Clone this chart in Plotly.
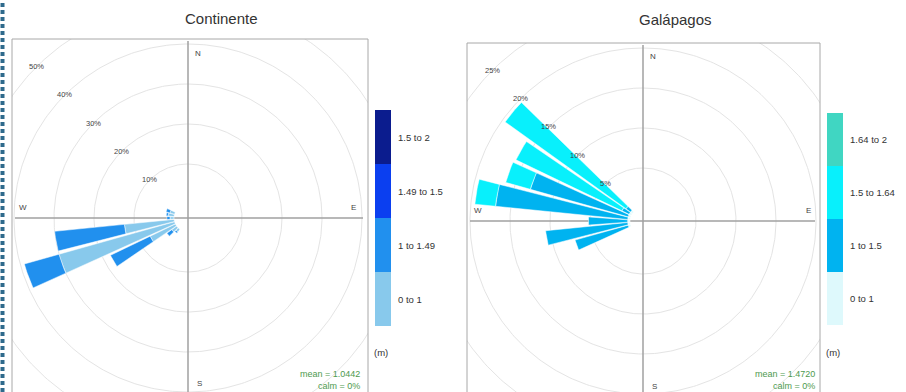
import numpy as np
import plotly.graph_objects as go

# ---------------- data ----------------
# Continente (percent of observations per direction, stacked by wave height class)
cont_dirs = [220, 230, 240, 250, 260, 270, 280, 290]
cont_labels = ["0 to 1", "1 to 1.49", "1.49 to 1.5", "1.5 to 2"]
cont_0_1 = [0.8, 1.5, 7.0, 30.0, 12.5, 1.0, 1.5, 1.2]
cont_1_149 = [0.4, 1.5, 11.0, 9.0, 17.5, 0.8, 0.5, 1.0]
cont_149_15 = [0, 0, 0, 0, 0, 0, 0, 0]
cont_15_2 = [0, 0, 0, 0, 0, 0, 0, 0]
cont_rings = [10, 20, 30, 40, 50]
cont_stats = ["mean = 1.0442", "calm = 0%"]

# Galápagos
gal_dirs = [250, 260, 270, 280, 290, 300, 310]
gal_labels = ["0 to 1", "1 to 1.5", "1.5 to 1.64", "1.64 to 2"]
gal_0_1 = [0.3, 0.3, 0.3, 0.3, 0.3, 0.3, 0.3]
gal_1_15 = [6.9, 10.3, 4.9, 16.6, 12.7, 1.0, 0.7]
gal_15_164 = [0, 0, 0, 2.6, 3.2, 14.7, 18.6]
gal_164_2 = [0, 0, 0, 0, 0, 0, 0]
gal_rings = [5, 10, 15, 20, 25]
gal_stats = ["mean = 1.4720", "calm = 0%"]

titles = ["Continente", "Galápagos"]
unit_label = "(m)"

# ---------------- styles ----------------
cont_colors = ["#88c9ec", "#2190ee", "#0b3ff0", "#0b1c8e"]
gal_colors = ["#def9fc", "#00b3f0", "#08f0fc", "#40d6c2"]
FONT = "Liberation Sans, Arial, sans-serif"
W, H = 906, 392

panels = [
    dict(ax="x", ay="y", dirs=cont_dirs, segs=[cont_0_1, cont_1_149, cont_149_15, cont_15_2],
         colors=cont_colors, labels=cont_labels, rings=cont_rings, stats=cont_stats,
         ppu=4.0, hole=14 / 4.0, box=(12, 368, 39), center=(188, 218),
         leg=(375, 391, 110, 326), title=titles[0], title_xy=(221, 18), stats_x=362),
    dict(ax="x2", ay="y2", dirs=gal_dirs, segs=[gal_0_1, gal_1_15, gal_15_164, gal_164_2],
         colors=gal_colors, labels=gal_labels, rings=gal_rings, stats=gal_stats,
         ppu=8.0, hole=13 / 8.0, box=(467, 820, 43), center=(643, 221),
         leg=(827, 843, 113, 325), title=titles[1], title_xy=(675, 20), stats_x=817),
]

fig = go.Figure()
shapes = []
annotations = []
HW = 4.3  # half width of each wedge (deg)


def wedge(theta, r0, r1, hw=HW, n=14):
    a = np.radians(np.linspace(theta - hw, theta + hw, n))
    xo, yo = r1 * np.sin(a), r1 * np.cos(a)
    xi, yi = r0 * np.sin(a[::-1]), r0 * np.cos(a[::-1])
    x = np.concatenate([xo, xi, xo[:1]])
    y = np.concatenate([yo, yi, yo[:1]])
    return x, y


def paper_text(px, py, text, size, color, xanchor="center"):
    return dict(x=px / W, y=1 - py / H, xref="paper", yref="paper", text=text,
                showarrow=False, xanchor=xanchor, yanchor="middle",
                font=dict(size=size, color=color, family=FONT))


layout_axes = {}
for i, p in enumerate(panels):
    x0, x1, top = p["box"]
    cx, cy = p["center"]
    ppu = p["ppu"]
    xr = [-(cx - x0) / ppu, (x1 - cx) / ppu]
    yr = [-(H - cy) / ppu, (cy - top) / ppu]
    suffix = "" if i == 0 else "2"
    layout_axes["xaxis" + suffix] = dict(domain=[x0 / W, x1 / W], range=xr, visible=False,
                                         fixedrange=True, anchor="y" + suffix)
    layout_axes["yaxis" + suffix] = dict(domain=[0, 1 - top / H], range=yr, visible=False,
                                         fixedrange=True, anchor="x" + suffix)

    # rings
    t = np.radians(np.linspace(0, 360, 361))
    for rv in p["rings"]:
        r = p["hole"] + rv
        fig.add_trace(go.Scatter(x=r * np.sin(t), y=r * np.cos(t), mode="lines",
                                 line=dict(color="#e4e4e4", width=1), hoverinfo="skip",
                                 showlegend=False, xaxis=p["ax"], yaxis=p["ay"]))
    # cross lines
    fig.add_trace(go.Scatter(x=[xr[0] + 3 / ppu, xr[1] - 5 / ppu], y=[0, 0], mode="lines",
                             line=dict(color="#a0a0a0", width=1.5), hoverinfo="skip",
                             showlegend=False, xaxis=p["ax"], yaxis=p["ay"]))
    fig.add_trace(go.Scatter(x=[0, 0], y=[yr[0], yr[1] - 2 / ppu], mode="lines",
                             line=dict(color="#a0a0a0", width=1.5), hoverinfo="skip",
                             showlegend=False, xaxis=p["ax"], yaxis=p["ay"]))

    # wedges (stacked from the centre outwards)
    segs = np.array(p["segs"], dtype=float)
    cum = np.vstack([np.zeros(segs.shape[1]), np.cumsum(segs, axis=0)])
    for k, d in enumerate(p["dirs"]):
        for s in range(segs.shape[0]):
            if segs[s, k] <= 0:
                continue
            x, y = wedge(d, p["hole"] + cum[s, k], p["hole"] + cum[s + 1, k])
            fig.add_trace(go.Scatter(x=x, y=y, mode="lines", fill="toself",
                                     fillcolor=p["colors"][s],
                                     line=dict(color="white", width=0.5),
                                     hoverinfo="skip", showlegend=False,
                                     xaxis=p["ax"], yaxis=p["ay"]))

    # ring labels along the NW diagonal
    for rv in p["rings"]:
        r = p["hole"] + rv
        a = np.radians(315)
        annotations.append(dict(x=r * np.sin(a), y=r * np.cos(a), xref=p["ax"], yref=p["ay"],
                                text=f"{rv}%", showarrow=False, xanchor="center",
                                yanchor="middle",
                                font=dict(size=7.5, color="#444", family=FONT)))
    # compass letters
    R = 165 / ppu
    for txt, xx, yy, xs, ys in [("N", 0, R, 10, 0), ("S", 0, -R, 11, 0),
                                ("W", -R, 0, 0, 11), ("E", R, 0, 0, 11)]:
        annotations.append(dict(x=xx, y=yy, xref=p["ax"], yref=p["ay"], text=txt,
                                showarrow=False, xshift=xs, yshift=ys, xanchor="center",
                                yanchor="middle",
                                font=dict(size=8, color="#444", family=FONT)))

    # frame (left, top, right)
    for (ax0, ay0, ax1, ay1) in [(x0, top, x0, H + 5), (x0, top, x1, top), (x1, top, x1, H + 5)]:
        shapes.append(dict(type="line", xref="paper", yref="paper",
                           x0=ax0 / W, x1=ax1 / W, y0=1 - ay0 / H, y1=1 - ay1 / H,
                           line=dict(color="#a8a8a8", width=1)))

    # title
    tx, ty = p["title_xy"]
    annotations.append(paper_text(tx, ty, p["title"], 15, "#333"))

    # stats
    for j, s in enumerate(p["stats"]):
        annotations.append(paper_text(p["stats_x"], 374 + 11.5 * j, s, 9, "#4e9a4e",
                                      xanchor="right"))

    # colour key
    lx0, lx1, ly0, ly1 = p["leg"]
    n = len(p["labels"])
    step = (ly1 - ly0) / n
    for s in range(n):
        idx = n - 1 - s  # top = highest class
        yt = ly0 + s * step
        shapes.append(dict(type="rect", xref="paper", yref="paper",
                           x0=lx0 / W, x1=lx1 / W, y0=1 - yt / H, y1=1 - (yt + step) / H,
                           fillcolor=p["colors"][idx], line=dict(width=0)))
        annotations.append(paper_text(lx1 + 5, yt + step / 2, p["labels"][idx], 9.5, "#333",
                                      xanchor="left"))
    annotations.append(paper_text(lx0 - 3, 352, unit_label, 9.5, "#333", xanchor="left"))

# dashed decorative border at the left edge
shapes.append(dict(type="line", xref="paper", yref="paper", x0=2.5 / W, x1=2.5 / W, y0=0, y1=1,
                   line=dict(color="#2f6a8c", width=4, dash="4px,3px")))

fig.update_layout(width=W, height=H, margin=dict(l=0, r=0, t=0, b=0),
                  paper_bgcolor="white", plot_bgcolor="white",
                  shapes=shapes, annotations=annotations, **layout_axes)

fig.write_html("out.html", config={"displayModeBar": False},
               post_script="document.body.style.margin='0';document.body.style.overflow='hidden';")
